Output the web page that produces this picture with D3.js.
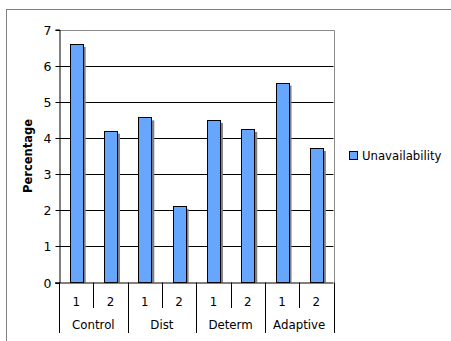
<!DOCTYPE html>
<html><head><meta charset="utf-8">
<script src="https://cdn.jsdelivr.net/npm/d3@7"></script>
<style>body{margin:0;background:#fff}svg{display:block}text{font-family:"DejaVu Sans",Verdana,sans-serif;fill:#000}</style>
</head><body>
<script>
const groups = ["Control","Dist","Determ","Adaptive"];
const runs = ["1","2"];
const values = [6.6, 4.2, 4.57, 2.12, 4.5, 4.25, 5.53, 3.72];
const yTicks = [0,1,2,3,4,5,6,7];
const seriesName = "Unavailability";

const W=451,H=341;
const svg=d3.select("body").append("svg").attr("width",W).attr("height",H);
// outer frame
svg.append("rect").attr("x",6.5).attr("y",9.5).attr("width",W).attr("height",H)
  .attr("fill","none").attr("stroke","#808080");

const L=59,R=333.5,T=29.5,B=282.5;
const cats=[];groups.forEach(g=>runs.forEach(r=>cats.push(g+"|"+r)));
const x=d3.scaleBand().domain(cats).range([L,R]).paddingInner(0.62).paddingOuter(0.31);
const xc=d3.scaleBand().domain(cats).range([L,R]);
const y=d3.scaleLinear().domain([0,7]).range([B,T]);

// gridlines
svg.append("g").selectAll("line").data(yTicks.filter(d=>d>0&&d<7)).join("line")
  .attr("x1",L).attr("x2",R).attr("y1",d=>Math.round(y(d))+0.5).attr("y2",d=>Math.round(y(d))+0.5)
  .attr("stroke","#000");
// top & right border
svg.append("path").attr("d",`M${L},${Math.round(T)+0.5}H${Math.round(R)+0.5}V${B}`)
  .attr("fill","none").attr("stroke","#8a8a8a");

// shadows
svg.append("g").selectAll("rect").data(values).join("rect")
  .attr("x",(d,i)=>x(cats[i])+3).attr("y",d=>y(d)+3)
  .attr("width",x.bandwidth()).attr("height",d=>B-y(d)-3).attr("fill","#808080");
// bars
svg.append("g").selectAll("rect").data(values).join("rect")
  .attr("x",(d,i)=>Math.round(x(cats[i]))+0.5).attr("y",d=>Math.round(y(d))+0.5)
  .attr("width",Math.round(x.bandwidth())).attr("height",d=>B-Math.round(y(d))-0.5)
  .attr("fill","#66a6ff").attr("stroke","#000");

// y axis
const ya=svg.append("g").attr("transform",`translate(${L+0.5},0)`)
  .call(d3.axisLeft(y).tickValues(yTicks).tickSize(4).tickFormat(d3.format("d")));
ya.select(".domain").attr("stroke","#000");
ya.selectAll(".tick line").attr("stroke","#000");
ya.selectAll(".tick text").attr("font-size","12.5px").attr("x",-8).attr("fill","#000")
  .style("font-family","'DejaVu Sans',Verdana,sans-serif");
ya.selectAll(".tick").attr("transform",d=>`translate(0,${Math.round(y(d))+0.5})`);

// x axis baseline
svg.append("line").attr("x1",L-4).attr("x2",R).attr("y1",B+0.5).attr("y2",B+0.5).attr("stroke","#000");
// category separators
const xg=svg.append("g");
cats.forEach((c,i)=>{
  const xx=Math.round(xc(c))+0.5;
  const long=i%2===0;
  xg.append("line").attr("x1",xx).attr("x2",xx).attr("y1",B).attr("y2",long?333:308).attr("stroke","#000");
});
xg.append("line").attr("x1",Math.round(R)+0.5).attr("x2",Math.round(R)+0.5).attr("y1",B).attr("y2",333).attr("stroke","#000");
// run labels
xg.selectAll("text.run").data(cats).join("text").attr("class","run")
  .attr("x",c=>xc(c)+xc.bandwidth()/2).attr("y",305.5).attr("text-anchor","middle")
  .attr("font-size","11.8px").text(c=>c.split("|")[1]);
// group labels
xg.selectAll("text.grp").data(groups).join("text").attr("class","grp")
  .attr("x",(g,i)=>xc(cats[i*2])+xc.bandwidth()).attr("y",329).attr("text-anchor","middle")
  .attr("font-size","11.8px").text(g=>g);

// y title
svg.append("text").attr("transform",`translate(32,${(T+B)/2}) rotate(-90)`)
  .attr("text-anchor","middle").attr("font-size","11.5px").attr("font-weight","bold").text("Percentage");

// legend
svg.append("rect").attr("x",349.5).attr("y",151.5).attr("width",8).attr("height",8)
  .attr("fill","#66a6ff").attr("stroke","#000");
svg.append("text").attr("x",362).attr("y",160).attr("font-size","11.7px").text(seriesName);
</script>
</body></html>
